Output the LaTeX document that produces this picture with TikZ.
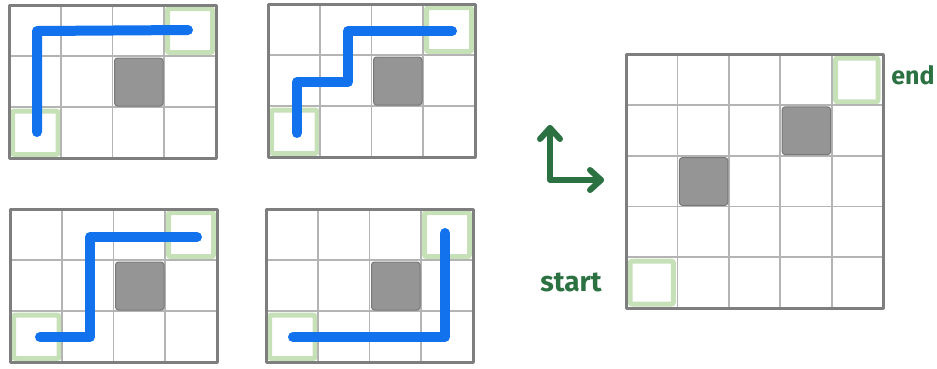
\documentclass[tikz,border=0pt]{standalone}
\usepackage{fontspec}
\setmainfont{Fira Sans}
\usetikzlibrary{arrows.meta,positioning}
\definecolor{ink}{HTML}{2B7142}
\definecolor{wallgray}{HTML}{959595}
\definecolor{wallrim}{HTML}{787878}
\definecolor{gridgray}{HTML}{B4B4B4}
\definecolor{framegray}{HTML}{7E7E7E}
\definecolor{goalgreen}{HTML}{C6E1B8}
\definecolor{routeblue}{HTML}{1272EE}

\begin{document}
\begin{tikzpicture}[x=1pt,y=-1pt,
  gridline/.style={draw=gridgray,line width=1.8pt},
  frameline/.style={draw=framegray,line width=3pt,line join=round},
  wallbox/.style={fill=wallgray,draw=wallrim,line width=1pt,rounded corners=3pt},
  goalbox/.style={draw=goalgreen,line width=5pt,rounded corners=2pt},
  routeline/.style={draw=routeblue,line width=10pt,line cap=round,line join=round},
  axisline/.style={draw=ink,line width=6pt,line cap=round,line join=round},
  lbl/.style={text=ink,font=\fontsize{28}{28}\selectfont\bfseries}]
  \useasboundingbox (0,0) rectangle (937,368);

  % the four small 4x3 grids
  \foreach \gx/\gy in {9/5,268/4,10/209,266/209}{
    \begin{scope}[shift={(\gx,\gy)}]
      \draw[goalbox] (158.5,3.5) rectangle (203.5,47.5);
      \draw[goalbox] (3.5,106) rectangle (49,149.5);
      \foreach \i in {1,2,3} \draw[gridline] (\i*51.75,0) -- (\i*51.75,153);
      \foreach \j in {1,2} \draw[gridline] (0,\j*51) -- (207,\j*51);
      \draw[wallbox] (105.5,53) rectangle (154,101);
      \draw[frameline] (0,0) rectangle (207,153);
    \end{scope}
  }

  % routes
  \draw[routeline] (37,132) -- (37,31) -- (188,30);
  \draw[routeline] (297,133) -- (297,82) -- (348,82) -- (348,31) -- (452,31);
  \draw[routeline] (40,337) -- (90,337) -- (90,237) -- (197,237);
  \draw[routeline] (293,337) -- (445,337) -- (445,233);

  % the big 5x5 grid
  \begin{scope}[shift={(626,54)}]
    \draw[goalbox] (209.6,4) rectangle (252,47.8);
    \draw[goalbox] (4,207.2) rectangle (47.4,250);
    \foreach \i in {1,...,4} \draw[gridline] (\i*51.4,0) -- (\i*51.4,254);
    \foreach \j in {1,...,4} \draw[gridline] (0,\j*50.8) -- (257,\j*50.8);
    \draw[wallbox] (53.4,103.6) rectangle (101.8,151.4);
    \draw[wallbox] (156.2,52.8) rectangle (204.6,100.6);
    \draw[frameline] (0,0) rectangle (257,254);
  \end{scope}

  % axes
  \coordinate (axis) at (550,180);
  \coordinate (up) at (550,128);
  \coordinate (right) at (601,180);
  \draw[axisline] (up) -- (axis) -- (right);
  \draw[axisline] (up) ++(-10,11) -- (up) -- ++(10,11);
  \draw[axisline] (right) ++(-11,-10) -- (right) -- ++(-11,10);

  \node[lbl] (startlbl) at (571,282) {start};
  \node[lbl,font=\fontsize{25}{25}\selectfont\bfseries] (endlbl) at (913,75) {end};
\end{tikzpicture}
\end{document}
